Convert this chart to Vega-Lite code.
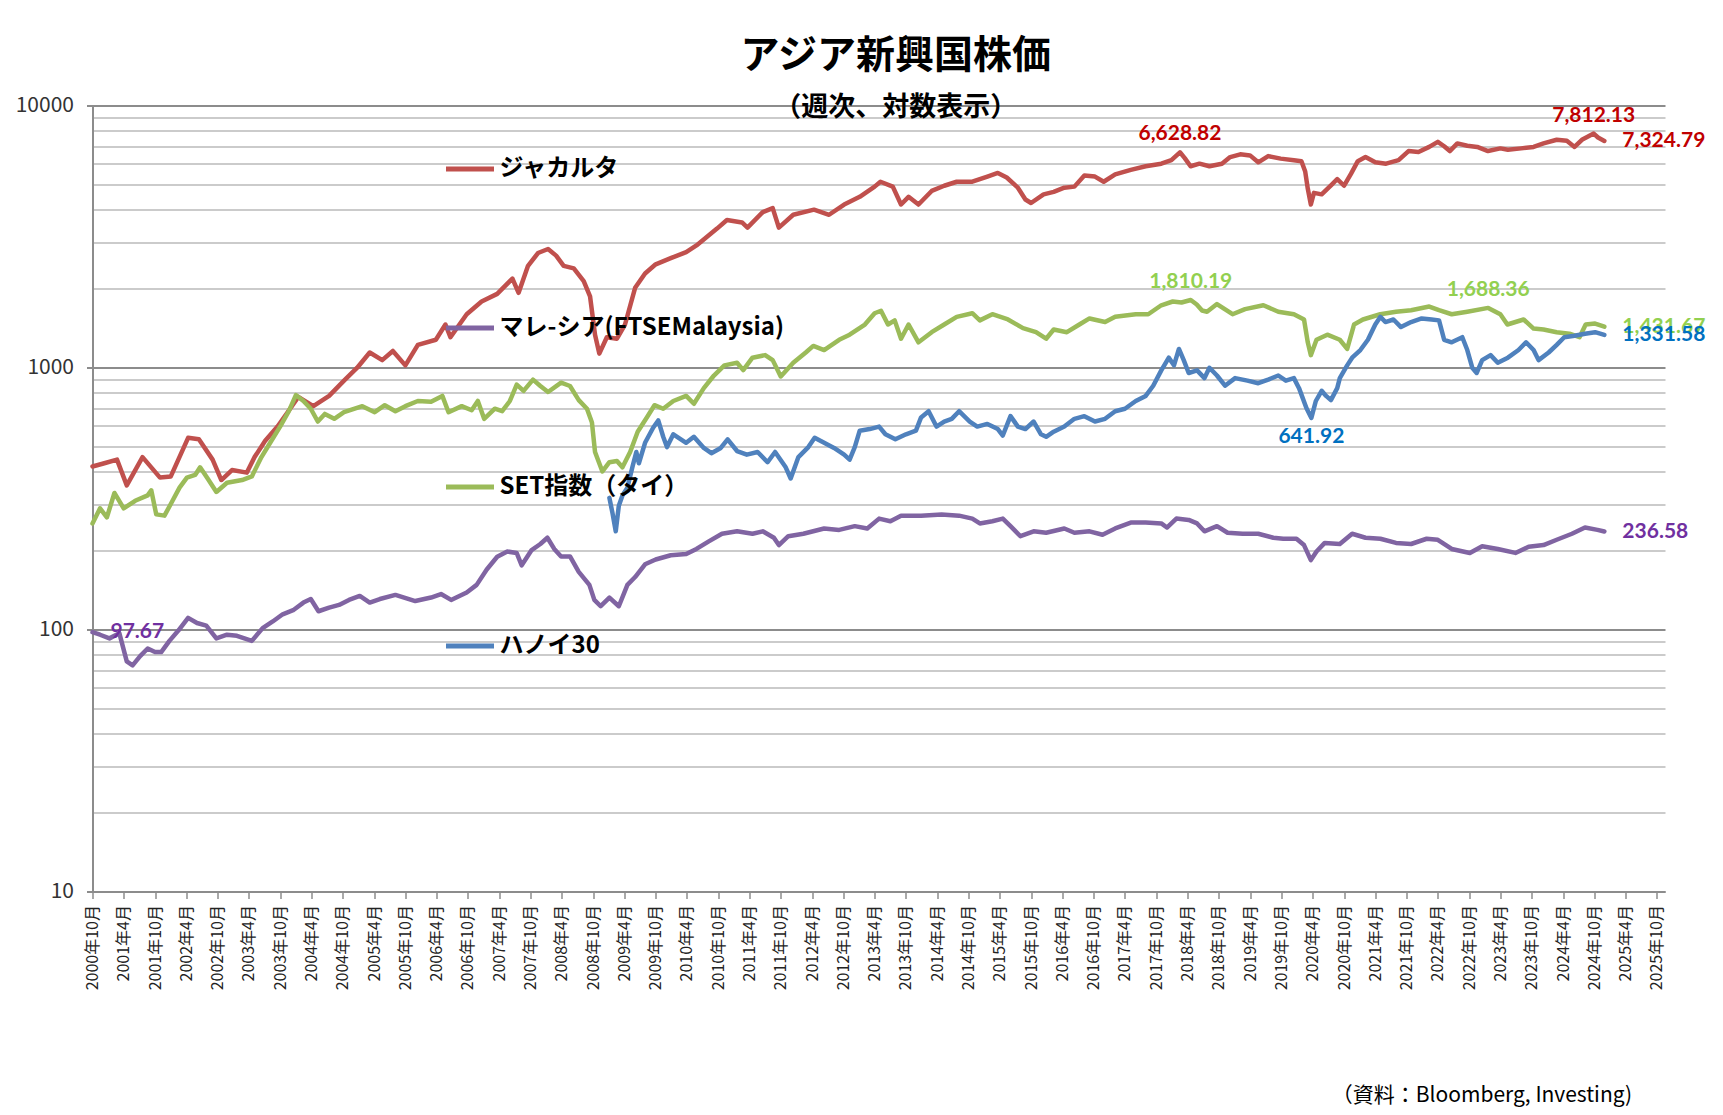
{
  "$schema": "https://vega.github.io/schema/vega-lite/v6.json",
  "autosize": {"type": "none"},
  "width": 1572.5,
  "height": 786,
  "padding": {"left": 92.5, "top": 105.5, "right": 58, "bottom": 223.5},
  "background": "white",
  "config": {"view": {"stroke": null}},
  "title": {
    "text": "アジア新興国株価",
    "subtitle": "（週次、対数表示）",
    "anchor": "middle",
    "dx": 17,
    "offset": -26,
    "font": "Noto Sans CJK JP",
    "fontSize": 39,
    "fontWeight": "bold",
    "color": "#000000",
    "subtitleFont": "Noto Sans CJK JP",
    "subtitleFontSize": 27,
    "subtitleFontWeight": "bold",
    "subtitleColor": "#000000",
    "subtitlePadding": 19
  },
  "data": {"values": [
    {"s":"ジャカルタ","d":"2000-10-01","v":419},
    {"s":"ジャカルタ","d":"2000-12-09","v":431},
    {"s":"ジャカルタ","d":"2001-02-21","v":445},
    {"s":"ジャカルタ","d":"2001-04-19","v":355},
    {"s":"ジャカルタ","d":"2001-07-20","v":455},
    {"s":"ジャカルタ","d":"2001-10-30","v":380},
    {"s":"ジャカルタ","d":"2002-01-01","v":384},
    {"s":"ジャカルタ","d":"2002-04-12","v":539},
    {"s":"ジャカルタ","d":"2002-06-14","v":532},
    {"s":"ジャカルタ","d":"2002-09-02","v":445},
    {"s":"ジャカルタ","d":"2002-10-23","v":372},
    {"s":"ジャカルタ","d":"2002-12-24","v":406},
    {"s":"ジャカルタ","d":"2003-03-21","v":397},
    {"s":"ジャカルタ","d":"2003-05-05","v":455},
    {"s":"ジャカルタ","d":"2003-07-06","v":525},
    {"s":"ジャカルタ","d":"2003-09-16","v":595},
    {"s":"ジャカルタ","d":"2003-11-14","v":675},
    {"s":"ジャカルタ","d":"2004-01-15","v":772},
    {"s":"ジャカルタ","d":"2004-04-12","v":712},
    {"s":"ジャカルタ","d":"2004-07-13","v":779},
    {"s":"ジャカルタ","d":"2004-10-08","v":891},
    {"s":"ジャカルタ","d":"2004-12-24","v":998},
    {"s":"ジャカルタ","d":"2005-03-07","v":1141},
    {"s":"ジャカルタ","d":"2005-05-19","v":1067},
    {"s":"ジャカルタ","d":"2005-07-20","v":1156},
    {"s":"ジャカルタ","d":"2005-10-01","v":1019},
    {"s":"ジャカルタ","d":"2005-12-13","v":1220},
    {"s":"ジャカルタ","d":"2006-03-28","v":1276},
    {"s":"ジャカルタ","d":"2006-05-23","v":1459},
    {"s":"ジャカルタ","d":"2006-06-21","v":1305},
    {"s":"ジャカルタ","d":"2006-09-24","v":1596},
    {"s":"ジャカルタ","d":"2006-12-20","v":1786},
    {"s":"ジャカルタ","d":"2007-03-21","v":1910},
    {"s":"ジャカルタ","d":"2007-06-18","v":2185},
    {"s":"ジャカルタ","d":"2007-07-24","v":1928},
    {"s":"ジャカルタ","d":"2007-09-17","v":2443},
    {"s":"ジャカルタ","d":"2007-11-14","v":2735},
    {"s":"ジャカルタ","d":"2008-01-12","v":2833},
    {"s":"ジャカルタ","d":"2008-02-28","v":2673},
    {"s":"ジャカルタ","d":"2008-04-12","v":2443},
    {"s":"ジャカルタ","d":"2008-06-10","v":2389},
    {"s":"ジャカルタ","d":"2008-08-07","v":2137},
    {"s":"ジャカルタ","d":"2008-09-13","v":1868},
    {"s":"ジャカルタ","d":"2008-10-12","v":1334},
    {"s":"ジャカルタ","d":"2008-11-06","v":1130},
    {"s":"ジャカルタ","d":"2008-12-20","v":1305},
    {"s":"ジャカルタ","d":"2009-02-17","v":1288},
    {"s":"ジャカルタ","d":"2009-04-05","v":1459},
    {"s":"ジャカルタ","d":"2009-06-03","v":2014},
    {"s":"ジャカルタ","d":"2009-07-31","v":2285},
    {"s":"ジャカルタ","d":"2009-10-01","v":2477},
    {"s":"ジャカルタ","d":"2009-12-28","v":2614},
    {"s":"ジャカルタ","d":"2010-03-28","v":2758},
    {"s":"ジャカルタ","d":"2010-05-27","v":2924},
    {"s":"ジャカルタ","d":"2010-09-24","v":3390},
    {"s":"ジャカルタ","d":"2010-11-21","v":3656},
    {"s":"ジャカルタ","d":"2011-02-17","v":3578},
    {"s":"ジャカルタ","d":"2011-03-21","v":3420},
    {"s":"ジャカルタ","d":"2011-06-18","v":3916},
    {"s":"ジャカルタ","d":"2011-08-15","v":4058},
    {"s":"ジャカルタ","d":"2011-09-20","v":3420},
    {"s":"ジャカルタ","d":"2011-12-13","v":3828},
    {"s":"ジャカルタ","d":"2012-04-12","v":4003},
    {"s":"ジャカルタ","d":"2012-07-09","v":3828},
    {"s":"ジャカルタ","d":"2012-10-05","v":4188},
    {"s":"ジャカルタ","d":"2013-01-04","v":4482},
    {"s":"ジャカルタ","d":"2013-04-01","v":4902},
    {"s":"ジャカルタ","d":"2013-05-05","v":5117},
    {"s":"ジャカルタ","d":"2013-07-16","v":4902},
    {"s":"ジャカルタ","d":"2013-09-02","v":4188},
    {"s":"ジャカルタ","d":"2013-10-16","v":4482},
    {"s":"ジャカルタ","d":"2013-12-13","v":4188},
    {"s":"ジャカルタ","d":"2014-02-28","v":4719},
    {"s":"ジャカルタ","d":"2014-05-12","v":4940},
    {"s":"ジャカルタ","d":"2014-07-24","v":5117},
    {"s":"ジャカルタ","d":"2014-10-23","v":5117},
    {"s":"ジャカルタ","d":"2015-01-19","v":5355},
    {"s":"ジャカルタ","d":"2015-03-21","v":5530},
    {"s":"ジャカルタ","d":"2015-05-12","v":5310},
    {"s":"ジャカルタ","d":"2015-07-16","v":4857},
    {"s":"ジャカルタ","d":"2015-08-29","v":4378},
    {"s":"ジャカルタ","d":"2015-10-01","v":4245},
    {"s":"ジャカルタ","d":"2015-12-13","v":4580},
    {"s":"ジャカルタ","d":"2016-02-10","v":4680},
    {"s":"ジャカルタ","d":"2016-04-12","v":4857},
    {"s":"ジャカルタ","d":"2016-06-10","v":4902},
    {"s":"ジャカルタ","d":"2016-08-07","v":5407},
    {"s":"ジャカルタ","d":"2016-10-08","v":5355},
    {"s":"ジャカルタ","d":"2016-11-28","v":5117},
    {"s":"ジャカルタ","d":"2017-02-03","v":5456},
    {"s":"ジャカルタ","d":"2017-05-05","v":5680},
    {"s":"ジャカルタ","d":"2017-07-31","v":5862},
    {"s":"ジャカルタ","d":"2017-10-30","v":5997},
    {"s":"ジャカルタ","d":"2017-12-28","v":6186},
    {"s":"ジャカルタ","d":"2018-02-16","v":6628.82},
    {"s":"ジャカルタ","d":"2018-03-16","v":6300},
    {"s":"ジャカルタ","d":"2018-04-19","v":5862},
    {"s":"ジャカルタ","d":"2018-06-10","v":5997},
    {"s":"ジャカルタ","d":"2018-08-07","v":5862},
    {"s":"ジャカルタ","d":"2018-10-19","v":5997},
    {"s":"ジャカルタ","d":"2018-12-06","v":6355},
    {"s":"ジャカルタ","d":"2019-02-03","v":6510},
    {"s":"ジャカルタ","d":"2019-04-01","v":6450},
    {"s":"ジャカルタ","d":"2019-05-19","v":6070},
    {"s":"ジャカルタ","d":"2019-07-16","v":6410},
    {"s":"ジャカルタ","d":"2019-09-27","v":6270},
    {"s":"ジャカルタ","d":"2019-12-13","v":6186},
    {"s":"ジャカルタ","d":"2020-01-26","v":6130},
    {"s":"ジャカルタ","d":"2020-02-17","v":5600},
    {"s":"ジャカルタ","d":"2020-03-03","v":4820},
    {"s":"ジャカルタ","d":"2020-03-21","v":4188},
    {"s":"ジャカルタ","d":"2020-04-08","v":4640},
    {"s":"ジャカルタ","d":"2020-05-23","v":4580},
    {"s":"ジャカルタ","d":"2020-07-24","v":5015},
    {"s":"ジャカルタ","d":"2020-08-22","v":5240},
    {"s":"ジャカルタ","d":"2020-10-01","v":4940},
    {"s":"ジャカルタ","d":"2020-11-10","v":5480},
    {"s":"ジャカルタ","d":"2020-12-20","v":6130},
    {"s":"ジャカルタ","d":"2021-02-03","v":6355},
    {"s":"ジャカルタ","d":"2021-04-01","v":6070},
    {"s":"ジャカルタ","d":"2021-06-03","v":5997},
    {"s":"ジャカルタ","d":"2021-08-15","v":6186},
    {"s":"ジャカルタ","d":"2021-10-12","v":6700},
    {"s":"ジャカルタ","d":"2021-12-09","v":6650},
    {"s":"ジャカルタ","d":"2022-02-10","v":6950},
    {"s":"ジャカルタ","d":"2022-04-01","v":7266},
    {"s":"ジャカルタ","d":"2022-05-08","v":6990},
    {"s":"ジャカルタ","d":"2022-06-10","v":6700},
    {"s":"ジャカルタ","d":"2022-07-24","v":7165},
    {"s":"ジャカルタ","d":"2022-09-20","v":7020},
    {"s":"ジャカルタ","d":"2022-11-17","v":6950},
    {"s":"ジャカルタ","d":"2023-01-19","v":6700},
    {"s":"ジャカルタ","d":"2023-04-01","v":6860},
    {"s":"ジャカルタ","d":"2023-05-15","v":6780},
    {"s":"ジャカルタ","d":"2023-07-31","v":6860},
    {"s":"ジャカルタ","d":"2023-10-12","v":6950},
    {"s":"ジャカルタ","d":"2023-12-09","v":7165},
    {"s":"ジャカルタ","d":"2024-02-24","v":7400},
    {"s":"ジャカルタ","d":"2024-04-23","v":7330},
    {"s":"ジャカルタ","d":"2024-06-07","v":6950},
    {"s":"ジャカルタ","d":"2024-07-20","v":7400},
    {"s":"ジャカルタ","d":"2024-09-27","v":7812.13},
    {"s":"ジャカルタ","d":"2024-10-22","v":7550},
    {"s":"ジャカルタ","d":"2024-11-28","v":7324.79},

    {"s":"マレ-シア(FTSEMalaysia)","d":"2000-10-01","v":97.67},
    {"s":"マレ-シア(FTSEMalaysia)","d":"2000-11-14","v":95.5},
    {"s":"マレ-シア(FTSEMalaysia)","d":"2001-01-08","v":92.5},
    {"s":"マレ-シア(FTSEMalaysia)","d":"2001-03-07","v":96.7},
    {"s":"マレ-シア(FTSEMalaysia)","d":"2001-04-19","v":75.6},
    {"s":"マレ-シア(FTSEMalaysia)","d":"2001-05-23","v":73.0},
    {"s":"マレ-シア(FTSEMalaysia)","d":"2001-07-06","v":79.1},
    {"s":"マレ-シア(FTSEMalaysia)","d":"2001-08-19","v":84.6},
    {"s":"マレ-シア(FTSEMalaysia)","d":"2001-10-01","v":82.0},
    {"s":"マレ-シア(FTSEMalaysia)","d":"2001-11-06","v":82.0},
    {"s":"マレ-シア(FTSEMalaysia)","d":"2001-12-24","v":90.5},
    {"s":"マレ-シア(FTSEMalaysia)","d":"2002-02-14","v":99.1},
    {"s":"マレ-シア(FTSEMalaysia)","d":"2002-04-12","v":110.8},
    {"s":"マレ-シア(FTSEMalaysia)","d":"2002-06-03","v":105.9},
    {"s":"マレ-シア(FTSEMalaysia)","d":"2002-07-27","v":103.5},
    {"s":"マレ-シア(FTSEMalaysia)","d":"2002-09-24","v":92.5},
    {"s":"マレ-シア(FTSEMalaysia)","d":"2002-11-25","v":95.5},
    {"s":"マレ-シア(FTSEMalaysia)","d":"2003-01-22","v":94.6},
    {"s":"マレ-シア(FTSEMalaysia)","d":"2003-04-19","v":90.5},
    {"s":"マレ-シア(FTSEMalaysia)","d":"2003-06-21","v":101.2},
    {"s":"マレ-シア(FTSEMalaysia)","d":"2003-08-19","v":107.3},
    {"s":"マレ-シア(FTSEMalaysia)","d":"2003-10-16","v":114.3},
    {"s":"マレ-シア(FTSEMalaysia)","d":"2003-12-16","v":118.5},
    {"s":"マレ-シア(FTSEMalaysia)","d":"2004-02-14","v":126.7},
    {"s":"マレ-シア(FTSEMalaysia)","d":"2004-03-28","v":130.7},
    {"s":"マレ-シア(FTSEMalaysia)","d":"2004-05-12","v":117.4},
    {"s":"マレ-シア(FTSEMalaysia)","d":"2004-07-13","v":121.2},
    {"s":"マレ-シア(FTSEMalaysia)","d":"2004-09-09","v":124.1},
    {"s":"マレ-シア(FTSEMalaysia)","d":"2004-11-06","v":129.7},
    {"s":"マレ-シア(FTSEMalaysia)","d":"2005-01-08","v":134.3},
    {"s":"マレ-シア(FTSEMalaysia)","d":"2005-03-07","v":126.7},
    {"s":"マレ-シア(FTSEMalaysia)","d":"2005-05-05","v":130.7},
    {"s":"マレ-シア(FTSEMalaysia)","d":"2005-08-04","v":135.5},
    {"s":"マレ-シア(FTSEMalaysia)","d":"2005-11-28","v":128.4},
    {"s":"マレ-シア(FTSEMalaysia)","d":"2006-02-28","v":132.4},
    {"s":"マレ-シア(FTSEMalaysia)","d":"2006-04-27","v":136.6},
    {"s":"マレ-シア(FTSEMalaysia)","d":"2006-06-25","v":129.7},
    {"s":"マレ-シア(FTSEMalaysia)","d":"2006-09-24","v":138.5},
    {"s":"マレ-シア(FTSEMalaysia)","d":"2006-11-21","v":148},
    {"s":"マレ-シア(FTSEMalaysia)","d":"2007-01-19","v":169.5},
    {"s":"マレ-シア(FTSEMalaysia)","d":"2007-03-21","v":189.6},
    {"s":"マレ-シア(FTSEMalaysia)","d":"2007-05-19","v":198.5},
    {"s":"マレ-シア(FTSEMalaysia)","d":"2007-07-13","v":195.8},
    {"s":"マレ-シア(FTSEMalaysia)","d":"2007-08-11","v":175.8},
    {"s":"マレ-シア(FTSEMalaysia)","d":"2007-10-08","v":201},
    {"s":"マレ-シア(FTSEMalaysia)","d":"2007-11-28","v":212},
    {"s":"マレ-シア(FTSEMalaysia)","d":"2008-01-08","v":224},
    {"s":"マレ-シア(FTSEMalaysia)","d":"2008-02-17","v":203},
    {"s":"マレ-シア(FTSEMalaysia)","d":"2008-03-28","v":190},
    {"s":"マレ-シア(FTSEMalaysia)","d":"2008-05-19","v":190},
    {"s":"マレ-シア(FTSEMalaysia)","d":"2008-07-09","v":166},
    {"s":"マレ-シア(FTSEMalaysia)","d":"2008-09-09","v":148},
    {"s":"マレ-シア(FTSEMalaysia)","d":"2008-10-08","v":129.7},
    {"s":"マレ-シア(FTSEMalaysia)","d":"2008-11-14","v":122.7},
    {"s":"マレ-シア(FTSEMalaysia)","d":"2009-01-04","v":132.4},
    {"s":"マレ-シア(FTSEMalaysia)","d":"2009-02-28","v":122.7},
    {"s":"マレ-シア(FTSEMalaysia)","d":"2009-04-19","v":148},
    {"s":"マレ-シア(FTSEMalaysia)","d":"2009-06-03","v":158.6},
    {"s":"マレ-シア(FTSEMalaysia)","d":"2009-07-31","v":177.4},
    {"s":"マレ-シア(FTSEMalaysia)","d":"2009-10-01","v":185},
    {"s":"マレ-シア(FTSEMalaysia)","d":"2009-12-28","v":192},
    {"s":"マレ-シア(FTSEMalaysia)","d":"2010-03-28","v":194},
    {"s":"マレ-シア(FTSEMalaysia)","d":"2010-05-27","v":203},
    {"s":"マレ-シア(FTSEMalaysia)","d":"2010-08-07","v":217},
    {"s":"マレ-シア(FTSEMalaysia)","d":"2010-10-23","v":232},
    {"s":"マレ-シア(FTSEMalaysia)","d":"2011-01-19","v":237},
    {"s":"マレ-シア(FTSEMalaysia)","d":"2011-04-19","v":232},
    {"s":"マレ-シア(FTSEMalaysia)","d":"2011-06-18","v":237},
    {"s":"マレ-シア(FTSEMalaysia)","d":"2011-08-22","v":224},
    {"s":"マレ-シア(FTSEMalaysia)","d":"2011-09-20","v":210},
    {"s":"マレ-シア(FTSEMalaysia)","d":"2011-11-14","v":227},
    {"s":"マレ-シア(FTSEMalaysia)","d":"2012-02-10","v":232},
    {"s":"マレ-シア(FTSEMalaysia)","d":"2012-06-10","v":243},
    {"s":"マレ-シア(FTSEMalaysia)","d":"2012-09-06","v":240},
    {"s":"マレ-シア(FTSEMalaysia)","d":"2012-12-06","v":248},
    {"s":"マレ-シア(FTSEMalaysia)","d":"2013-02-17","v":243},
    {"s":"マレ-シア(FTSEMalaysia)","d":"2013-04-27","v":265},
    {"s":"マレ-シア(FTSEMalaysia)","d":"2013-07-02","v":259},
    {"s":"マレ-シア(FTSEMalaysia)","d":"2013-09-02","v":272},
    {"s":"マレ-シア(FTSEMalaysia)","d":"2013-12-28","v":272},
    {"s":"マレ-シア(FTSEMalaysia)","d":"2014-04-27","v":275},
    {"s":"マレ-シア(FTSEMalaysia)","d":"2014-08-07","v":272},
    {"s":"マレ-シア(FTSEMalaysia)","d":"2014-10-23","v":265},
    {"s":"マレ-シア(FTSEMalaysia)","d":"2014-12-06","v":254},
    {"s":"マレ-シア(FTSEMalaysia)","d":"2015-02-17","v":259},
    {"s":"マレ-シア(FTSEMalaysia)","d":"2015-04-19","v":265},
    {"s":"マレ-シア(FTSEMalaysia)","d":"2015-06-03","v":248},
    {"s":"マレ-シア(FTSEMalaysia)","d":"2015-07-31","v":227},
    {"s":"マレ-シア(FTSEMalaysia)","d":"2015-10-16","v":237},
    {"s":"マレ-シア(FTSEMalaysia)","d":"2015-12-28","v":234},
    {"s":"マレ-シア(FTSEMalaysia)","d":"2016-04-12","v":243},
    {"s":"マレ-シア(FTSEMalaysia)","d":"2016-06-10","v":234},
    {"s":"マレ-シア(FTSEMalaysia)","d":"2016-09-06","v":237},
    {"s":"マレ-シア(FTSEMalaysia)","d":"2016-11-21","v":230},
    {"s":"マレ-シア(FTSEMalaysia)","d":"2017-02-03","v":243},
    {"s":"マレ-シア(FTSEMalaysia)","d":"2017-05-05","v":256},
    {"s":"マレ-シア(FTSEMalaysia)","d":"2017-07-31","v":256},
    {"s":"マレ-シア(FTSEMalaysia)","d":"2017-10-30","v":254},
    {"s":"マレ-シア(FTSEMalaysia)","d":"2017-12-02","v":245},
    {"s":"マレ-シア(FTSEMalaysia)","d":"2018-01-26","v":265},
    {"s":"マレ-シア(FTSEMalaysia)","d":"2018-04-08","v":262},
    {"s":"マレ-シア(FTSEMalaysia)","d":"2018-05-27","v":254},
    {"s":"マレ-シア(FTSEMalaysia)","d":"2018-07-09","v":237},
    {"s":"マレ-シア(FTSEMalaysia)","d":"2018-09-20","v":248},
    {"s":"マレ-シア(FTSEMalaysia)","d":"2018-11-21","v":234},
    {"s":"マレ-シア(FTSEMalaysia)","d":"2019-02-17","v":232},
    {"s":"マレ-シア(FTSEMalaysia)","d":"2019-05-19","v":232},
    {"s":"マレ-シア(FTSEMalaysia)","d":"2019-08-15","v":224},
    {"s":"マレ-シア(FTSEMalaysia)","d":"2019-10-12","v":222},
    {"s":"マレ-シア(FTSEMalaysia)","d":"2019-12-28","v":222},
    {"s":"マレ-シア(FTSEMalaysia)","d":"2020-02-10","v":210},
    {"s":"マレ-シア(FTSEMalaysia)","d":"2020-03-21","v":184},
    {"s":"マレ-シア(FTSEMalaysia)","d":"2020-04-23","v":198.5},
    {"s":"マレ-シア(FTSEMalaysia)","d":"2020-06-10","v":214},
    {"s":"マレ-シア(FTSEMalaysia)","d":"2020-09-06","v":212},
    {"s":"マレ-シア(FTSEMalaysia)","d":"2020-11-17","v":232},
    {"s":"マレ-シア(FTSEMalaysia)","d":"2021-02-03","v":224},
    {"s":"マレ-シア(FTSEMalaysia)","d":"2021-05-01","v":222},
    {"s":"マレ-シア(FTSEMalaysia)","d":"2021-07-31","v":214},
    {"s":"マレ-シア(FTSEMalaysia)","d":"2021-10-27","v":212},
    {"s":"マレ-シア(FTSEMalaysia)","d":"2022-01-26","v":222},
    {"s":"マレ-シア(FTSEMalaysia)","d":"2022-04-01","v":220},
    {"s":"マレ-シア(FTSEMalaysia)","d":"2022-06-21","v":203},
    {"s":"マレ-シア(FTSEMalaysia)","d":"2022-10-05","v":196},
    {"s":"マレ-シア(FTSEMalaysia)","d":"2022-12-16","v":208},
    {"s":"マレ-シア(FTSEMalaysia)","d":"2023-03-17","v":203},
    {"s":"マレ-シア(FTSEMalaysia)","d":"2023-06-28","v":196},
    {"s":"マレ-シア(FTSEMalaysia)","d":"2023-09-13","v":207},
    {"s":"マレ-シア(FTSEMalaysia)","d":"2023-12-09","v":210},
    {"s":"マレ-シア(FTSEMalaysia)","d":"2024-02-24","v":220},
    {"s":"マレ-シア(FTSEMalaysia)","d":"2024-05-23","v":232},
    {"s":"マレ-シア(FTSEMalaysia)","d":"2024-08-07","v":245},
    {"s":"マレ-シア(FTSEMalaysia)","d":"2024-10-19","v":240},
    {"s":"マレ-シア(FTSEMalaysia)","d":"2024-11-28","v":236.58},

    {"s":"SET指数（タイ）","d":"2000-10-01","v":254},
    {"s":"SET指数（タイ）","d":"2000-11-14","v":290},
    {"s":"SET指数（タイ）","d":"2000-12-24","v":268},
    {"s":"SET指数（タイ）","d":"2001-02-06","v":332},
    {"s":"SET指数（タイ）","d":"2001-04-01","v":290},
    {"s":"SET指数（タイ）","d":"2001-06-07","v":310},
    {"s":"SET指数（タイ）","d":"2001-08-19","v":325},
    {"s":"SET指数（タイ）","d":"2001-09-09","v":340},
    {"s":"SET指数（タイ）","d":"2001-10-08","v":275},
    {"s":"SET指数（タイ）","d":"2001-11-25","v":272},
    {"s":"SET指数（タイ）","d":"2002-01-04","v":304},
    {"s":"SET指数（タイ）","d":"2002-02-21","v":348},
    {"s":"SET指数（タイ）","d":"2002-04-05","v":380},
    {"s":"SET指数（タイ）","d":"2002-05-23","v":389},
    {"s":"SET指数（タイ）","d":"2002-06-21","v":416},
    {"s":"SET指数（タイ）","d":"2002-08-04","v":377},
    {"s":"SET指数（タイ）","d":"2002-09-24","v":335},
    {"s":"SET指数（タイ）","d":"2002-11-25","v":363},
    {"s":"SET指数（タイ）","d":"2003-02-21","v":372},
    {"s":"SET指数（タイ）","d":"2003-04-19","v":384},
    {"s":"SET指数（タイ）","d":"2003-06-14","v":455},
    {"s":"SET指数（タイ）","d":"2003-08-04","v":516},
    {"s":"SET指数（タイ）","d":"2003-10-01","v":595},
    {"s":"SET指数（タイ）","d":"2003-11-21","v":681},
    {"s":"SET指数（タイ）","d":"2004-01-01","v":785},
    {"s":"SET指数（タイ）","d":"2004-02-14","v":745},
    {"s":"SET指数（タイ）","d":"2004-03-28","v":696},
    {"s":"SET指数（タイ）","d":"2004-05-08","v":622},
    {"s":"SET指数（タイ）","d":"2004-06-18","v":665},
    {"s":"SET指数（タイ）","d":"2004-08-12","v":637},
    {"s":"SET指数（タイ）","d":"2004-10-08","v":675},
    {"s":"SET指数（タイ）","d":"2005-01-23","v":712},
    {"s":"SET指数（タイ）","d":"2005-04-05","v":675},
    {"s":"SET指数（タイ）","d":"2005-06-03","v":718},
    {"s":"SET指数（タイ）","d":"2005-08-04","v":681},
    {"s":"SET指数（タイ）","d":"2005-10-01","v":712},
    {"s":"SET指数（タイ）","d":"2005-12-13","v":745},
    {"s":"SET指数（タイ）","d":"2006-02-28","v":740},
    {"s":"SET指数（タイ）","d":"2006-05-05","v":779},
    {"s":"SET指数（タイ）","d":"2006-06-10","v":675},
    {"s":"SET指数（タイ）","d":"2006-08-26","v":712},
    {"s":"SET指数（タイ）","d":"2006-10-23","v":687},
    {"s":"SET指数（タイ）","d":"2006-11-28","v":745},
    {"s":"SET指数（タイ）","d":"2007-01-04","v":637},
    {"s":"SET指数（タイ）","d":"2007-03-07","v":696},
    {"s":"SET指数（タイ）","d":"2007-04-19","v":681},
    {"s":"SET指数（タイ）","d":"2007-06-03","v":745},
    {"s":"SET指数（タイ）","d":"2007-07-13","v":860},
    {"s":"SET指数（タイ）","d":"2007-08-22","v":814},
    {"s":"SET指数（タイ）","d":"2007-10-16","v":899},
    {"s":"SET指数（タイ）","d":"2007-11-28","v":850},
    {"s":"SET指数（タイ）","d":"2008-01-12","v":806},
    {"s":"SET指数（タイ）","d":"2008-03-28","v":875},
    {"s":"SET指数（タイ）","d":"2008-05-19","v":850},
    {"s":"SET指数（タイ）","d":"2008-07-09","v":751},
    {"s":"SET指数（タイ）","d":"2008-08-26","v":696},
    {"s":"SET指数（タイ）","d":"2008-09-24","v":617},
    {"s":"SET指数（タイ）","d":"2008-10-12","v":476},
    {"s":"SET指数（タイ）","d":"2008-11-24","v":401},
    {"s":"SET指数（タイ）","d":"2009-01-04","v":435},
    {"s":"SET指数（タイ）","d":"2009-02-17","v":440},
    {"s":"SET指数（タイ）","d":"2009-03-21","v":416},
    {"s":"SET指数（タイ）","d":"2009-05-05","v":476},
    {"s":"SET指数（タイ）","d":"2009-06-18","v":569},
    {"s":"SET指数（タイ）","d":"2009-08-15","v":652},
    {"s":"SET指数（タイ）","d":"2009-09-24","v":718},
    {"s":"SET指数（タイ）","d":"2009-11-14","v":696},
    {"s":"SET指数（タイ）","d":"2010-01-12","v":745},
    {"s":"SET指数（タイ）","d":"2010-03-28","v":779},
    {"s":"SET指数（タイ）","d":"2010-05-12","v":727},
    {"s":"SET指数（タイ）","d":"2010-07-09","v":834},
    {"s":"SET指数（タイ）","d":"2010-09-06","v":932},
    {"s":"SET指数（タイ）","d":"2010-11-06","v":1019},
    {"s":"SET指数（タイ）","d":"2011-01-19","v":1042},
    {"s":"SET指数（タイ）","d":"2011-02-24","v":977},
    {"s":"SET指数（タイ）","d":"2011-04-19","v":1090},
    {"s":"SET指数（タイ）","d":"2011-07-02","v":1115},
    {"s":"SET指数（タイ）","d":"2011-08-15","v":1067},
    {"s":"SET指数（タイ）","d":"2011-10-01","v":924},
    {"s":"SET指数（タイ）","d":"2011-12-13","v":1042},
    {"s":"SET指数（タイ）","d":"2012-02-24","v":1141},
    {"s":"SET指数（タイ）","d":"2012-04-08","v":1209},
    {"s":"SET指数（タイ）","d":"2012-06-10","v":1166},
    {"s":"SET指数（タイ）","d":"2012-09-06","v":1276},
    {"s":"SET指数（タイ）","d":"2012-11-06","v":1334},
    {"s":"SET指数（タイ）","d":"2013-02-03","v":1459},
    {"s":"SET指数（タイ）","d":"2013-04-01","v":1611},
    {"s":"SET指数（タイ）","d":"2013-05-08","v":1647},
    {"s":"SET指数（タイ）","d":"2013-06-18","v":1459},
    {"s":"SET指数（タイ）","d":"2013-07-27","v":1513},
    {"s":"SET指数（タイ）","d":"2013-09-02","v":1288},
    {"s":"SET指数（タイ）","d":"2013-10-16","v":1459},
    {"s":"SET指数（タイ）","d":"2013-12-13","v":1248},
    {"s":"SET指数（タイ）","d":"2014-02-28","v":1364},
    {"s":"SET指数（タイ）","d":"2014-05-12","v":1459},
    {"s":"SET指数（タイ）","d":"2014-07-24","v":1561},
    {"s":"SET指数（タイ）","d":"2014-10-23","v":1611},
    {"s":"SET指数（タイ）","d":"2014-12-06","v":1513},
    {"s":"SET指数（タイ）","d":"2015-02-17","v":1597},
    {"s":"SET指数（タイ）","d":"2015-05-19","v":1525},
    {"s":"SET指数（タイ）","d":"2015-08-15","v":1413},
    {"s":"SET指数（タイ）","d":"2015-10-30","v":1364},
    {"s":"SET指数（タイ）","d":"2015-12-28","v":1288},
    {"s":"SET指数（タイ）","d":"2016-02-10","v":1396},
    {"s":"SET指数（タイ）","d":"2016-04-27","v":1364},
    {"s":"SET指数（タイ）","d":"2016-07-09","v":1459},
    {"s":"SET指数（タイ）","d":"2016-09-06","v":1539},
    {"s":"SET指数（タイ）","d":"2016-12-06","v":1491},
    {"s":"SET指数（タイ）","d":"2017-02-03","v":1561},
    {"s":"SET指数（タイ）","d":"2017-06-03","v":1597},
    {"s":"SET指数（タイ）","d":"2017-08-15","v":1597},
    {"s":"SET指数（タイ）","d":"2017-10-30","v":1728},
    {"s":"SET指数（タイ）","d":"2018-01-05","v":1786},
    {"s":"SET指数（タイ）","d":"2018-02-25","v":1770},
    {"s":"SET指数（タイ）","d":"2018-04-20","v":1810.19},
    {"s":"SET指数（タイ）","d":"2018-05-25","v":1740},
    {"s":"SET指数（タイ）","d":"2018-06-25","v":1650},
    {"s":"SET指数（タイ）","d":"2018-07-24","v":1633},
    {"s":"SET指数（タイ）","d":"2018-09-20","v":1746},
    {"s":"SET指数（タイ）","d":"2018-12-20","v":1597},
    {"s":"SET指数（タイ）","d":"2019-03-03","v":1671},
    {"s":"SET指数（タイ）","d":"2019-06-18","v":1728},
    {"s":"SET指数（タイ）","d":"2019-09-13","v":1633},
    {"s":"SET指数（タイ）","d":"2019-12-13","v":1597},
    {"s":"SET指数（タイ）","d":"2020-02-10","v":1525},
    {"s":"SET指数（タイ）","d":"2020-03-03","v":1248},
    {"s":"SET指数（タイ）","d":"2020-03-21","v":1115},
    {"s":"SET指数（タイ）","d":"2020-04-23","v":1276},
    {"s":"SET指数（タイ）","d":"2020-06-25","v":1334},
    {"s":"SET指数（タイ）","d":"2020-09-06","v":1276},
    {"s":"SET指数（タイ）","d":"2020-10-19","v":1177},
    {"s":"SET指数（タイ）","d":"2020-11-28","v":1459},
    {"s":"SET指数（タイ）","d":"2021-01-19","v":1525},
    {"s":"SET指数（タイ）","d":"2021-04-30","v":1597},
    {"s":"SET指数（タイ）","d":"2021-07-31","v":1633},
    {"s":"SET指数（タイ）","d":"2021-10-27","v":1655},
    {"s":"SET指数（タイ）","d":"2022-02-10","v":1709},
    {"s":"SET指数（タイ）","d":"2022-04-08","v":1655},
    {"s":"SET指数（タイ）","d":"2022-06-21","v":1597},
    {"s":"SET指数（タイ）","d":"2022-09-20","v":1633},
    {"s":"SET指数（タイ）","d":"2023-01-20","v":1688.36},
    {"s":"SET指数（タイ）","d":"2023-04-01","v":1597},
    {"s":"SET指数（タイ）","d":"2023-05-12","v":1459},
    {"s":"SET指数（タイ）","d":"2023-08-15","v":1525},
    {"s":"SET指数（タイ）","d":"2023-10-12","v":1408},
    {"s":"SET指数（タイ）","d":"2023-12-09","v":1396},
    {"s":"SET指数（タイ）","d":"2024-02-24","v":1364},
    {"s":"SET指数（タイ）","d":"2024-05-08","v":1346},
    {"s":"SET指数（タイ）","d":"2024-07-06","v":1305},
    {"s":"SET指数（タイ）","d":"2024-08-11","v":1459},
    {"s":"SET指数（タイ）","d":"2024-10-05","v":1472},
    {"s":"SET指数（タイ）","d":"2024-11-28","v":1431.67},

    {"s":"ハノイ30","d":"2009-01-04","v":318},
    {"s":"ハノイ30","d":"2009-01-22","v":278},
    {"s":"ハノイ30","d":"2009-02-10","v":237},
    {"s":"ハノイ30","d":"2009-02-28","v":297},
    {"s":"ハノイ30","d":"2009-03-21","v":325},
    {"s":"ハノイ30","d":"2009-04-19","v":348},
    {"s":"ハノイ30","d":"2009-05-19","v":419},
    {"s":"ハノイ30","d":"2009-06-10","v":476},
    {"s":"ハノイ30","d":"2009-06-25","v":431},
    {"s":"ハノイ30","d":"2009-07-31","v":516},
    {"s":"ハノイ30","d":"2009-09-17","v":590},
    {"s":"ハノイ30","d":"2009-10-16","v":628},
    {"s":"ハノイ30","d":"2009-11-14","v":544},
    {"s":"ハノイ30","d":"2009-12-06","v":497},
    {"s":"ハノイ30","d":"2010-01-12","v":556},
    {"s":"ハノイ30","d":"2010-03-28","v":516},
    {"s":"ハノイ30","d":"2010-05-12","v":544},
    {"s":"ハノイ30","d":"2010-07-09","v":493},
    {"s":"ハノイ30","d":"2010-08-22","v":471},
    {"s":"ハノイ30","d":"2010-10-16","v":493},
    {"s":"ハノイ30","d":"2010-11-25","v":532},
    {"s":"ハノイ30","d":"2011-01-19","v":480},
    {"s":"ハノイ30","d":"2011-03-17","v":465},
    {"s":"ハノイ30","d":"2011-05-19","v":476},
    {"s":"ハノイ30","d":"2011-07-16","v":435},
    {"s":"ハノイ30","d":"2011-08-29","v":476},
    {"s":"ハノイ30","d":"2011-10-30","v":416},
    {"s":"ハノイ30","d":"2011-11-28","v":377},
    {"s":"ハノイ30","d":"2012-01-12","v":455},
    {"s":"ハノイ30","d":"2012-03-10","v":497},
    {"s":"ハノイ30","d":"2012-04-16","v":539},
    {"s":"ハノイ30","d":"2012-06-10","v":516},
    {"s":"ハノイ30","d":"2012-08-07","v":493},
    {"s":"ハノイ30","d":"2012-10-05","v":465},
    {"s":"ハノイ30","d":"2012-11-06","v":445},
    {"s":"ハノイ30","d":"2012-12-06","v":497},
    {"s":"ハノイ30","d":"2013-01-04","v":574},
    {"s":"ハノイ30","d":"2013-03-03","v":582},
    {"s":"ハノイ30","d":"2013-04-27","v":595},
    {"s":"ハノイ30","d":"2013-06-03","v":556},
    {"s":"ハノイ30","d":"2013-07-31","v":532},
    {"s":"ハノイ30","d":"2013-10-01","v":556},
    {"s":"ハノイ30","d":"2013-11-28","v":574},
    {"s":"ハノイ30","d":"2013-12-28","v":645},
    {"s":"ハノイ30","d":"2014-02-10","v":681},
    {"s":"ハノイ30","d":"2014-03-28","v":595},
    {"s":"ハノイ30","d":"2014-05-12","v":622},
    {"s":"ハノイ30","d":"2014-06-25","v":637},
    {"s":"ハノイ30","d":"2014-08-07","v":681},
    {"s":"ハノイ30","d":"2014-10-08","v":622},
    {"s":"ハノイ30","d":"2014-11-21","v":595},
    {"s":"ハノイ30","d":"2015-01-19","v":609},
    {"s":"ハノイ30","d":"2015-03-21","v":582},
    {"s":"ハノイ30","d":"2015-04-19","v":550},
    {"s":"ハノイ30","d":"2015-06-03","v":652},
    {"s":"ハノイ30","d":"2015-07-16","v":595},
    {"s":"ハノイ30","d":"2015-08-29","v":582},
    {"s":"ハノイ30","d":"2015-10-16","v":622},
    {"s":"ハノイ30","d":"2015-11-28","v":556},
    {"s":"ハノイ30","d":"2015-12-28","v":544},
    {"s":"ハノイ30","d":"2016-02-10","v":569},
    {"s":"ハノイ30","d":"2016-04-12","v":595},
    {"s":"ハノイ30","d":"2016-06-10","v":637},
    {"s":"ハノイ30","d":"2016-08-07","v":652},
    {"s":"ハノイ30","d":"2016-10-08","v":622},
    {"s":"ハノイ30","d":"2016-12-06","v":637},
    {"s":"ハノイ30","d":"2017-02-03","v":681},
    {"s":"ハノイ30","d":"2017-04-01","v":696},
    {"s":"ハノイ30","d":"2017-06-03","v":745},
    {"s":"ハノイ30","d":"2017-07-31","v":779},
    {"s":"ハノイ30","d":"2017-09-13","v":852},
    {"s":"ハノイ30","d":"2017-10-30","v":975},
    {"s":"ハノイ30","d":"2017-12-13","v":1090},
    {"s":"ハノイ30","d":"2018-01-12","v":1019},
    {"s":"ハノイ30","d":"2018-02-10","v":1177},
    {"s":"ハノイ30","d":"2018-03-10","v":1067},
    {"s":"ハノイ30","d":"2018-04-08","v":953},
    {"s":"ハノイ30","d":"2018-05-27","v":975},
    {"s":"ハノイ30","d":"2018-07-09","v":911},
    {"s":"ハノイ30","d":"2018-08-07","v":998},
    {"s":"ハノイ30","d":"2018-09-20","v":932},
    {"s":"ハノイ30","d":"2018-11-06","v":852},
    {"s":"ハノイ30","d":"2019-01-04","v":911},
    {"s":"ハノイ30","d":"2019-03-17","v":891},
    {"s":"ハノイ30","d":"2019-05-19","v":871},
    {"s":"ハノイ30","d":"2019-07-16","v":899},
    {"s":"ハノイ30","d":"2019-09-13","v":932},
    {"s":"ハノイ30","d":"2019-10-27","v":891},
    {"s":"ハノイ30","d":"2019-12-13","v":911},
    {"s":"ハノイ30","d":"2020-01-12","v":834},
    {"s":"ハノイ30","d":"2020-02-24","v":700},
    {"s":"ハノイ30","d":"2020-03-24","v":641.92},
    {"s":"ハノイ30","d":"2020-04-19","v":745},
    {"s":"ハノイ30","d":"2020-05-23","v":815},
    {"s":"ハノイ30","d":"2020-06-18","v":779},
    {"s":"ハノイ30","d":"2020-07-16","v":751},
    {"s":"ハノイ30","d":"2020-08-22","v":834},
    {"s":"ハノイ30","d":"2020-09-06","v":911},
    {"s":"ハノイ30","d":"2020-10-19","v":1019},
    {"s":"ハノイ30","d":"2020-11-17","v":1090},
    {"s":"ハノイ30","d":"2021-01-04","v":1166},
    {"s":"ハノイ30","d":"2021-02-17","v":1276},
    {"s":"ハノイ30","d":"2021-04-01","v":1459},
    {"s":"ハノイ30","d":"2021-05-01","v":1561},
    {"s":"ハノイ30","d":"2021-05-30","v":1491},
    {"s":"ハノイ30","d":"2021-07-16","v":1525},
    {"s":"ハノイ30","d":"2021-08-29","v":1427},
    {"s":"ハノイ30","d":"2021-10-27","v":1491},
    {"s":"ハノイ30","d":"2021-12-28","v":1539},
    {"s":"ハノイ30","d":"2022-02-24","v":1525},
    {"s":"ハノイ30","d":"2022-04-08","v":1513},
    {"s":"ハノイ30","d":"2022-05-08","v":1276},
    {"s":"ハノイ30","d":"2022-06-21","v":1248},
    {"s":"ハノイ30","d":"2022-08-22","v":1305},
    {"s":"ハノイ30","d":"2022-09-20","v":1166},
    {"s":"ハノイ30","d":"2022-10-19","v":998},
    {"s":"ハノイ30","d":"2022-11-14","v":953},
    {"s":"ハノイ30","d":"2022-12-16","v":1067},
    {"s":"ハノイ30","d":"2023-02-03","v":1115},
    {"s":"ハノイ30","d":"2023-03-17","v":1042},
    {"s":"ハノイ30","d":"2023-05-15","v":1090},
    {"s":"ハノイ30","d":"2023-07-16","v":1166},
    {"s":"ハノイ30","d":"2023-08-29","v":1248},
    {"s":"ハノイ30","d":"2023-10-12","v":1166},
    {"s":"ハノイ30","d":"2023-11-10","v":1067},
    {"s":"ハノイ30","d":"2024-01-08","v":1141},
    {"s":"ハノイ30","d":"2024-02-24","v":1220},
    {"s":"ハノイ30","d":"2024-04-08","v":1305},
    {"s":"ハノイ30","d":"2024-06-07","v":1321},
    {"s":"ハノイ30","d":"2024-08-07","v":1346},
    {"s":"ハノイ30","d":"2024-10-05","v":1364},
    {"s":"ハノイ30","d":"2024-11-28","v":1331.58}
  ]},
  "layer": [
    {
      "mark": {"type": "line", "strokeWidth": 4.5, "strokeJoin": "round", "strokeCap": "round"},
      "encoding": {
        "x": {
          "field": "d", "type": "temporal",
          "scale": {"type": "utc", "domain": [970358400000, 1763337600000]},
          "axis": {
            "values": [970358400000, 986083200000, 1001894400000, 1017619200000, 1033430400000, 1049155200000, 1064966400000, 1080777600000, 1096588800000, 1112313600000, 1128124800000, 1143849600000, 1159660800000, 1175385600000, 1191196800000, 1207008000000, 1222819200000, 1238544000000, 1254355200000, 1270080000000, 1285891200000, 1301616000000, 1317427200000, 1333238400000, 1349049600000, 1364774400000, 1380585600000, 1396310400000, 1412121600000, 1427846400000, 1443657600000, 1459468800000, 1475280000000, 1491004800000, 1506816000000, 1522540800000, 1538352000000, 1554076800000, 1569888000000, 1585699200000, 1601510400000, 1617235200000, 1633046400000, 1648771200000, 1664582400000, 1680307200000, 1696118400000, 1711929600000, 1727740800000, 1743465600000, 1759276800000],
            "tickCount": 200,
            "labelExpr": "utcFormat(datum.value, '%Y年%-m月')",
            "labelAngle": 270,
            "labelFont": "Noto Sans CJK JP",
            "labelFontSize": 16,
            "labelColor": "#222222",
            "labelPadding": 6,
            "labelOverlap": false,
            "labelFlush": false,
            "grid": false,
            "domainColor": "#8c8c8c",
            "domainWidth": 2,
            "tickColor": "#8c8c8c",
            "tickWidth": 1.5,
            "tickSize": 7,
            "title": "（資料：Bloomberg, Investing)",
            "titleX": 1539,
            "titleY": 204,
            "titleAlign": "right",
            "titleBaseline": "middle",
            "titleFont": "Noto Sans CJK JP",
            "titleFontSize": 21,
            "titleFontWeight": "normal",
            "titleColor": "#000000"
          }
        },
        "y": {
          "field": "v", "type": "quantitative",
          "scale": {"type": "log", "domain": [10, 10000], "nice": false},
          "axis": {
            "values": [10,20,30,40,50,60,70,80,90,100,200,300,400,500,600,700,800,900,1000,2000,3000,4000,5000,6000,7000,8000,9000,10000],
            "tickCount": 200,
            "labelExpr": "(datum.value == 10 || datum.value == 100 || datum.value == 1000 || datum.value == 10000) ? '' + datum.value : ''",
            "labelFont": "Noto Sans CJK JP",
            "labelFontSize": 21,
            "labelColor": "#333333",
            "labelPadding": 13,
            "labelOverlap": false,
            "grid": true,
            "gridColor": {"condition": {"test": "datum.value == 10 || datum.value == 100 || datum.value == 1000 || datum.value == 10000", "value": "#8c8c8c"}, "value": "#bababa"},
            "gridWidth": {"condition": {"test": "datum.value == 10 || datum.value == 100 || datum.value == 1000 || datum.value == 10000", "value": 2}, "value": 1.5},
            "tickColor": {"condition": {"test": "datum.value == 10 || datum.value == 100 || datum.value == 1000 || datum.value == 10000", "value": "#8c8c8c"}, "value": "transparent"},
            "tickSize": 6,
            "tickWidth": 2,
            "domainColor": "#8c8c8c",
            "domainWidth": 2,
            "title": null
          }
        },
        "color": {
          "field": "s", "type": "nominal",
          "scale": {"domain": ["ジャカルタ", "マレ-シア(FTSEMalaysia)", "SET指数（タイ）", "ハノイ30"], "range": ["#C0504D", "#8064A2", "#9BBB59", "#4F81BD"]},
          "legend": {
            "title": null,
            "orient": "none",
            "legendX": 351,
            "legendY": 37,
            "direction": "vertical",
            "symbolType": "stroke",
            "symbolSize": 2304,
            "symbolStrokeWidth": 5,
            "labelFont": "Noto Sans CJK JP",
            "labelFontSize": 24,
            "labelFontWeight": "bold",
            "labelColor": "#000000",
            "labelOffset": 3,
            "labelLimit": 600,
            "rowPadding": 120,
            "padding": 0
          }
        }
      }
    },
    {
      "data": {"values": [
        {"s":"ジャカルタ","d":"2018-02-16","v":6628.82},
        {"s":"ジャカルタ","d":"2024-09-27","v":7812.13},
        {"s":"SET指数（タイ）","d":"2018-04-20","v":1810.19},
        {"s":"SET指数（タイ）","d":"2023-01-20","v":1688.36}
      ]},
      "mark": {"type": "text", "align": "center", "baseline": "bottom", "dy": -8, "font": "Lato", "fontSize": 21, "fontWeight": "bold"},
      "encoding": {
        "x": {"field": "d", "type": "temporal"},
        "y": {"field": "v", "type": "quantitative"},
        "text": {"field": "v", "type": "quantitative", "format": ",.2f"},
        "fill": {"field": "s", "type": "nominal", "scale": {"domain": ["ジャカルタ", "マレ-シア(FTSEMalaysia)", "SET指数（タイ）", "ハノイ30"], "range": ["#C00000", "#7030A0", "#92D050", "#0070C0"]}, "legend": null}
      }
    },
    {
      "data": {"values": [
        {"s":"ジャカルタ","d":"2024-11-28","v":7324.79},
        {"s":"SET指数（タイ）","d":"2024-11-28","v":1431.67},
        {"s":"ハノイ30","d":"2024-11-28","v":1331.58},
        {"s":"マレ-シア(FTSEMalaysia)","d":"2024-11-28","v":236.58},
        {"s":"マレ-シア(FTSEMalaysia)","d":"2000-10-01","v":97.67}
      ]},
      "mark": {"type": "text", "align": "left", "baseline": "middle", "dx": 18, "font": "Lato", "fontSize": 21, "fontWeight": "bold"},
      "encoding": {
        "x": {"field": "d", "type": "temporal"},
        "y": {"field": "v", "type": "quantitative"},
        "text": {"field": "v", "type": "quantitative", "format": ",.2f"},
        "fill": {"field": "s", "type": "nominal", "legend": null}
      }
    },
    {
      "data": {"values": [
        {"s":"ハノイ30","d":"2020-03-24","v":641.92}
      ]},
      "mark": {"type": "text", "align": "center", "baseline": "top", "dy": 8, "font": "Lato", "fontSize": 21, "fontWeight": "bold"},
      "encoding": {
        "x": {"field": "d", "type": "temporal"},
        "y": {"field": "v", "type": "quantitative"},
        "text": {"field": "v", "type": "quantitative", "format": ",.2f"},
        "fill": {"field": "s", "type": "nominal", "legend": null}
      }
    }
  ]
}
